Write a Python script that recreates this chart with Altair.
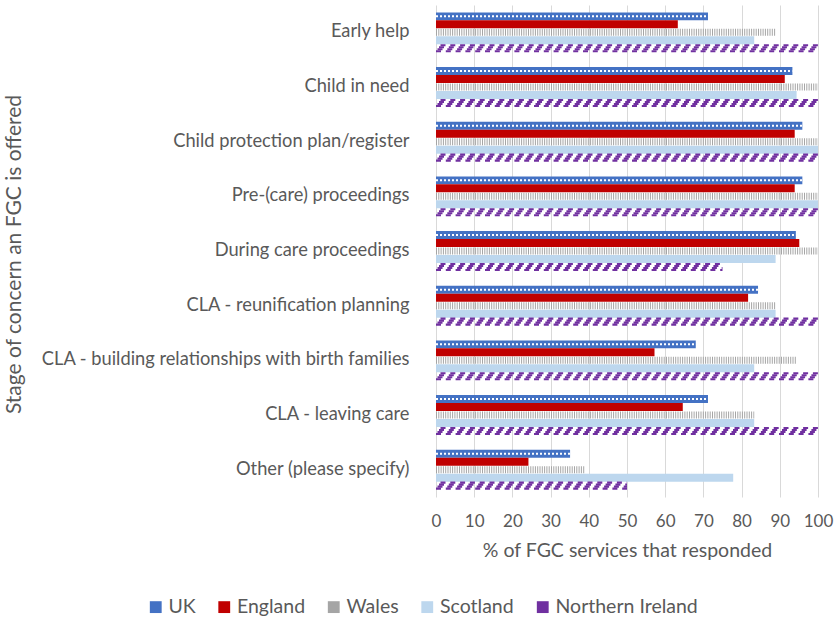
import altair as alt
import pandas as pd

categories = [
    "Early help",
    "Child in need",
    "Child protection plan/register",
    "Pre-(care) proceedings",
    "During care proceedings",
    "CLA - reunification planning",
    "CLA - building relationships with birth families",
    "CLA - leaving care",
    "Other (please specify)",
]
series = ["UK", "England", "Wales", "Scotland", "Northern Ireland"]
uk = [71.2, 93.3, 95.9, 95.9, 94.2, 84.3, 68.0, 71.2, 35.1]
england = [63.3, 91.3, 93.9, 93.9, 95.1, 81.7, 57.2, 64.6, 24.2]
wales = [88.9, 100, 100, 100, 100, 88.9, 94.4, 83.3, 38.9]
scotland = [83.3, 94.4, 100, 100, 88.9, 88.9, 83.3, 83.3, 77.8]
northern_ireland = [100, 100, 100, 100, 75, 100, 100, 100, 50]
colors = ["#4472C4", "#C00000", "#A5A5A5", "#BDD7EE", "#7030A0"]

values_by_series = [uk, england, wales, scotland, northern_ireland]
rows = []
for s, vals in zip(series, values_by_series):
    for c, v in zip(categories, vals):
        rows.append({"stage": c, "series": s, "value": v, "zero": 0})
df = pd.DataFrame(rows)

FONT = "Lato"
TXT = "#595959"
X_TITLE = "% of FGC services that responded"

y_scale = alt.Scale(paddingInner=0.27, paddingOuter=0.135)
y_axis = alt.Axis(
    title="Stage of concern an FGC is offered",
    titleX=-422,
    titleY=249,
    titleAngle=270,
    titleBaseline="middle",
    titleFontSize=21,
    titleFontWeight="normal",
    titleColor=TXT,
    titleFont=FONT,
    labelFont=FONT,
    labelFontSize=18.3,
    labelColor=TXT,
    labelPadding=27,
    labelLimit=500,
    ticks=False,
    domain=False,
    grid=False,
)
y_enc = alt.Y("stage:N", sort=categories, scale=y_scale, axis=y_axis)
yoff_enc = alt.YOffset(
    "series:N",
    sort=series,
    scale=alt.Scale(domain=series, paddingInner=0, paddingOuter=0),
)
x_scale = alt.Scale(domain=[0, 100], nice=False)
x_axis = alt.Axis(
    title=X_TITLE,
    values=list(range(0, 101, 10)),
    grid=True,
    gridColor="#D9D9D9",
    domain=False,
    ticks=False,
    labelFlush=False,
    labelOverlap=False,
    labelFont=FONT,
    labelFontSize=17,
    labelColor=TXT,
    labelPadding=16,
    titleFont=FONT,
    titleFontSize=19.5,
    titleFontWeight="normal",
    titleColor=TXT,
    titleY=59,
    titleBaseline="alphabetic",
)

base = alt.Chart(df)

bars = base.transform_filter(
    alt.FieldOneOfPredicate(field="series", oneOf=["UK", "England", "Scotland"])
).mark_bar(height={"band": 1}).encode(
    x=alt.X("value:Q", scale=x_scale, axis=x_axis, title=X_TITLE),
    y=y_enc,
    yOffset=yoff_enc,
    color=alt.Color(
        "series:N",
        sort=series,
        scale=alt.Scale(domain=series, range=colors),
        legend=alt.Legend(
            title=None,
            orient="none",
            direction="horizontal",
            legendX=-290,
            legendY=592,
            symbolType="square",
            symbolSize=140,
            symbolStrokeWidth=0,
            labelFont=FONT,
            labelFontSize=19.5,
            labelColor=TXT,
            labelOffset=3,
            columnPadding=18.5,
            padding=0,
        ),
    ),
)


def pattern_rule(name, **mark_kw):
    return base.transform_filter(alt.datum.series == name).mark_rule(**mark_kw).encode(
        x=alt.X("zero:Q", scale=x_scale, axis=x_axis, title=X_TITLE),
        x2=alt.X2("value:Q"),
        y=y_enc,
        yOffset=yoff_enc,
    )


uk_dots = pattern_rule("UK", color="white", strokeWidth=2, strokeDash=[2, 2])
wales_lines = pattern_rule("Wales", color="#A5A5A5", strokeWidth=7, strokeDash=[1, 1.3])

# diagonal stripes for Northern Ireland: staggered rows of dashes placed inside
# the last fifth of each category band
BAND_PX = 40.0
ni_rows = []
for dy, shift in [(-3.0, 4.5), (-1.0, 3.0), (1.0, 1.5), (3.0, 0.0)]:
    ni_rows.append(
        base.transform_filter(alt.datum.series == "Northern Ireland")
        .mark_rule(
            color="#7030A0",
            strokeWidth=2.1,
            strokeDash=[5, 4.8],
            strokeDashOffset=-shift,
        )
        .encode(
            x=alt.X("zero:Q", scale=x_scale, axis=x_axis, title=X_TITLE),
            x2=alt.X2("value:Q"),
            y=alt.Y(
                "stage:N",
                sort=categories,
                scale=y_scale,
                axis=y_axis,
                bandPosition=0.9 + dy / BAND_PX,
            ),
        )
    )

chart = (
    alt.layer(bars, uk_dots, wales_lines, *ni_rows)
    .properties(
        width=382,
        height=492,
        autosize=alt.AutoSizeParams(type="none"),
        padding={"left": 436, "right": 18, "top": 5, "bottom": 125},
        background="white",
    )
    .configure_view(stroke=None)
)

chart.save("out.html", embed_options={"renderer": "svg", "actions": False})
